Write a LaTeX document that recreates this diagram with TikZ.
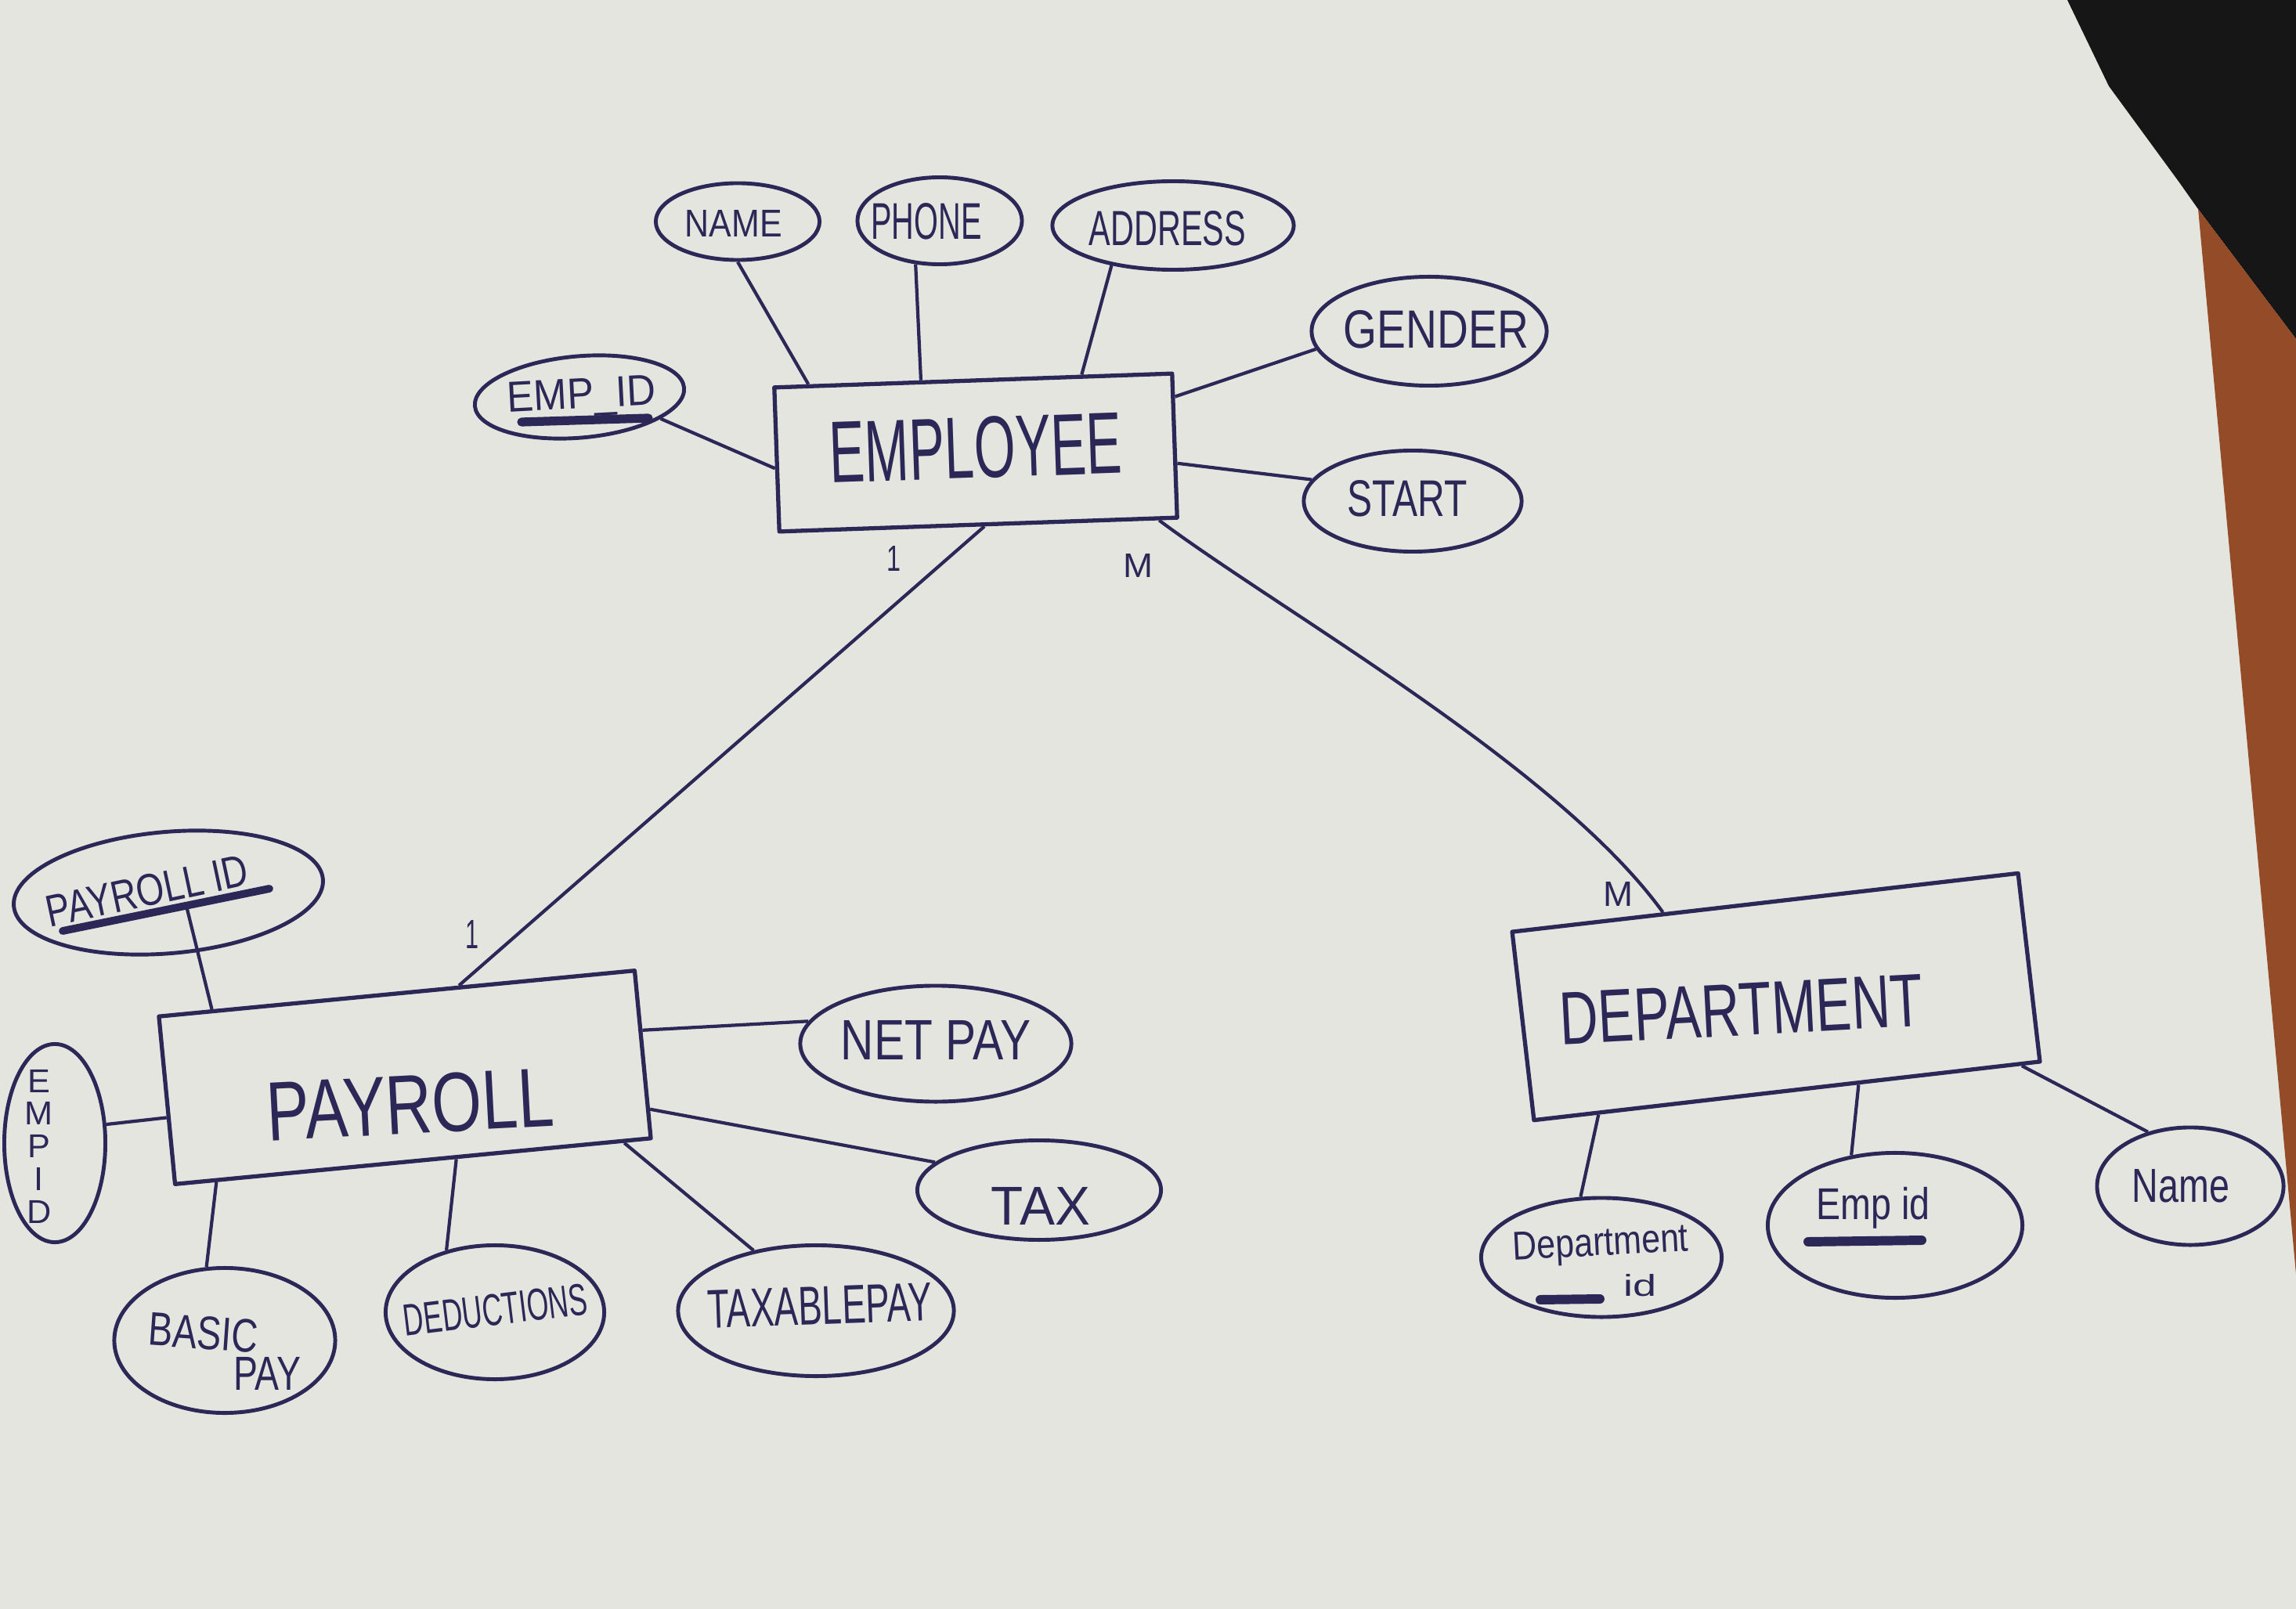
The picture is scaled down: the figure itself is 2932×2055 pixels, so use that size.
\documentclass[tikz,border=0pt]{standalone}
\usepackage{fontspec}
\setmainfont{Liberation Sans}
\usetikzlibrary{shapes.geometric,calc}
\newdimen\hwu \hwu=0.1mm
\newcommand{\hw}[3]{\resizebox{#1\hwu}{#2\hwu}{#3}}
\newcommand{\hwt}[3]{\resizebox*{#1\hwu}{#2\hwu}{#3}}
\definecolor{paper}{HTML}{E5E5DF}
\definecolor{ink}{HTML}{2B2756}
\definecolor{darkbg}{HTML}{161616}
\definecolor{wood}{HTML}{934C27}
\tikzset{
  entity/.style={draw=ink, line width=1.5pt, rectangle, inner sep=0pt},
  attr/.style={draw=ink, line width=1.4pt, ellipse, inner sep=0pt},
  conn/.style={draw=ink, line width=1.2pt},
  hwtext/.style={text=ink, inner sep=0pt},
  keyline/.style={draw=ink, line width=3.2pt, line cap=round},
}
\begin{document}
\begin{tikzpicture}[x=0.01cm, y=-0.01cm, line join=round]
\fill[paper] (0,0) rectangle (2932,2055);
\useasboundingbox (0,0) rectangle (2932,2055);
\fill[darkbg] (2640,0) -- (2932,0) -- (2932,433) -- (2807,267) -- (2783,233) -- (2693,110) -- cycle;
\fill[wood] (2807,267) -- (2932,433) -- (2932,1627) -- cycle;

% entities
\node[entity, minimum width=5.08cm, minimum height=1.84cm, rotate=2,
  label={[hwtext, rotate=2, yshift=0.06cm]center:\hw{374}{78}{EMPLOYEE}}] (emp) at (1246,578) {};
\node[entity, minimum width=6.1cm, minimum height=2.15cm, rotate=5.5,
  label={[hwtext, rotate=3, xshift=0.05cm, yshift=-0.35cm]center:\hw{366}{75}{PAYROLL}}] (pay) at (517,1376) {};
\node[entity, minimum width=6.5cm, minimum height=2.42cm, rotate=6.6,
  label={[hwtext, rotate=3, xshift=-0.45cm, yshift=-0.14cm]center:\hw{464}{66}{DEPARTMENT}}] (dept) at (2268,1273) {};

% employee attributes
\node[attr, minimum width=2.09cm, minimum height=0.98cm,
  label={[hwtext, xshift=-0.05cm, yshift=-0.02cm]center:\hw{124}{34}{NAME}}] (name) at (942,283) {};
\node[attr, minimum width=2.1cm, minimum height=1.11cm,
  label={[hwtext, xshift=-0.17cm, yshift=-0.01cm]center:\hw{141}{46}{PHONE}}] (phone) at (1200,282) {};
\node[attr, minimum width=3.08cm, minimum height=1.13cm,
  label={[hwtext, xshift=-0.07cm, yshift=-0.04cm]center:\hw{200}{44}{ADDRESS}}] (address) at (1498,288) {};
\node[attr, minimum width=3.0cm, minimum height=1.39cm,
  label={[hwtext, xshift=0.09cm, yshift=0.02cm]center:\hw{236}{48}{GENDER}}] (gender) at (1825,423) {};
\node[attr, minimum width=2.78cm, minimum height=1.29cm,
  label={[hwtext, xshift=-0.07cm, yshift=0.03cm]center:\hw{153}{46}{START}}] (start) at (1804,640) {};
\node[attr, minimum width=2.68cm, minimum height=1.04cm, rotate=5,
  label={[hwtext, rotate=3, xshift=0.03cm, yshift=-0.01cm]center:\hw{190}{38}{EMP\_ID}}] (empid) at (740,507) {};

% payroll attributes
\node[attr, minimum width=3.96cm, minimum height=1.55cm, rotate=5,
  label={[hwtext, rotate=12, xshift=-0.26cm, yshift=0.08cm]center:\hw{262}{40}{PAYROLL ID}}] (pid) at (215,1140) {};
\node[attr, minimum width=1.29cm, minimum height=2.53cm,
  label={[hwtext, xshift=-0.2cm, yshift=-0.04cm]center:\hw{36}{196}{\shortstack{E\\M\\P\\I\\D}}}] (empid2) at (70,1460) {};
\node[attr, minimum width=2.82cm, minimum height=1.85cm,
  label={[hwtext, rotate=-4, xshift=-0.28cm, yshift=0.08cm]center:\hw{140}{42}{BASIC}},
  label={[hwtext, xshift=0.54cm, yshift=-0.42cm]center:\hw{86}{42}{PAY}}] (basic) at (287,1712) {};
\node[attr, minimum width=2.79cm, minimum height=1.71cm,
  label={[hwtext, rotate=7, xshift=0.01cm, yshift=0.03cm]center:\hw{236}{40}{DEDUCTIONS}}] (ded) at (632,1676) {};
\node[attr, minimum width=3.52cm, minimum height=1.67cm,
  label={[hwtext, rotate=2, xshift=0.05cm, yshift=0.06cm]center:\hw{287}{48}{TAXABLEPAY}}] (taxp) at (1042,1674) {};
\node[attr, minimum width=3.46cm, minimum height=1.48cm,
  label={[hwtext, xshift=0cm, yshift=0.05cm]center:\hw{242}{50}{NET PAY}}] (netpay) at (1195,1333) {};
\node[attr, minimum width=3.11cm, minimum height=1.27cm,
  label={[hwtext, xshift=0.02cm, yshift=-0.2cm]center:\hw{126}{48}{TAX}}] (tax) at (1327,1520) {};

% department attributes
\node[attr, minimum width=3.07cm, minimum height=1.52cm,
  label={[hwtext, rotate=3, xshift=0cm, yshift=0.15cm]center:\hwt{224}{46}{Department}},
  label={[hwtext, xshift=0.49cm, yshift=-0.36cm]center:\hw{42}{28}{id}}] (did) at (2045,1606) {};
\node[attr, minimum width=3.25cm, minimum height=1.85cm,
  label={[hwtext, xshift=-0.28cm, yshift=0.22cm]center:\hwt{145}{53}{Emp id}}] (eid) at (2420,1565) {};
\node[attr, minimum width=2.38cm, minimum height=1.5cm,
  label={[hwtext, xshift=-0.12cm, yshift=0cm]center:\hw{124}{42}{Name}}] (dname) at (2797,1515) {};

% key underlines
\draw[keyline] ($(empid)+(-74,32)$) -- ($(empid)+(88,27)$);
\draw[keyline, line width=2.8pt] ($(pid)+(-135,49)$) -- ($(pid)+(129,-5)$);
\coordinate (pidu) at ($(pid)+(23,17)$);
\draw[keyline, line width=3.4pt] ($(did)+(-78,54)$) -- ($(did)+(-2,53)$);
\draw[keyline, line width=3.4pt] ($(eid)+(-111,21)$) -- ($(eid)+(34,19)$);

% employee connectors
\draw[conn] (name.south) -- ($(emp.north west)!0.09!(emp.north east)$);
\draw[conn] (phone.-119) -- ($(emp.north west)!0.37!(emp.north east)$);
\draw[conn] (address.-147) -- ($(emp.north west)!0.77!(emp.north east)$);
\draw[conn] (gender.-171) -- ($(emp.north east)!0.17!(emp.south east)$);
\draw[conn] (start.168) -- ($(emp.north east)!0.62!(emp.south east)$);
\draw[conn] (empid.-20) -- ($(emp.north west)!0.56!(emp.south west)$);

% relationships
\draw[conn] ($(emp.south west)!0.515!(emp.south east)$) -- ($(pay.north west)!0.63!(pay.north east)$);
\coordinate (rc1) at (1636,781);
\coordinate (rc2) at (1989,979);
\draw[conn] ($(emp.south west)!0.95!(emp.south east)$) .. controls (rc1) and (rc2) .. ($(dept.north west)!0.30!(dept.north east)$);

% payroll connectors
\draw[conn] (pidu) -- ($(pay.north west)!0.115!(pay.north east)$);
\draw[conn] (empid2.20) -- ($(pay.north west)!0.6!(pay.south west)$);
\draw[conn] (basic.104) -- ($(pay.south west)!0.09!(pay.south east)$);
\draw[conn] (ded.128) -- ($(pay.south west)!0.59!(pay.south east)$);
\draw[conn] (taxp.136) -- ($(pay.south west)!0.94!(pay.south east)$);
\draw[conn] (netpay.170) -- ($(pay.north east)!0.36!(pay.south east)$);
\draw[conn] (tax.165) -- ($(pay.north east)!0.82!(pay.south east)$);

% department connectors
\draw[conn] (did.109) -- ($(dept.south west)!0.13!(dept.south east)$);
\draw[conn] (eid.122) -- ($(dept.south west)!0.64!(dept.south east)$);
\draw[conn] (dname.128) -- ($(dept.south west)!0.96!(dept.south east)$);

% cardinalities
\node[hwtext] (c1e) at (1141,713) {\hw{18}{32}{1}};
\node[hwtext] (cme) at (1453,722) {\hw{38}{30}{M}};
\node[hwtext] (c1p) at (603,1193) {\hw{17}{36}{1}};
\node[hwtext] (cmd) at (2066,1142) {\hw{38}{31}{M}};
\end{tikzpicture}
\end{document}
